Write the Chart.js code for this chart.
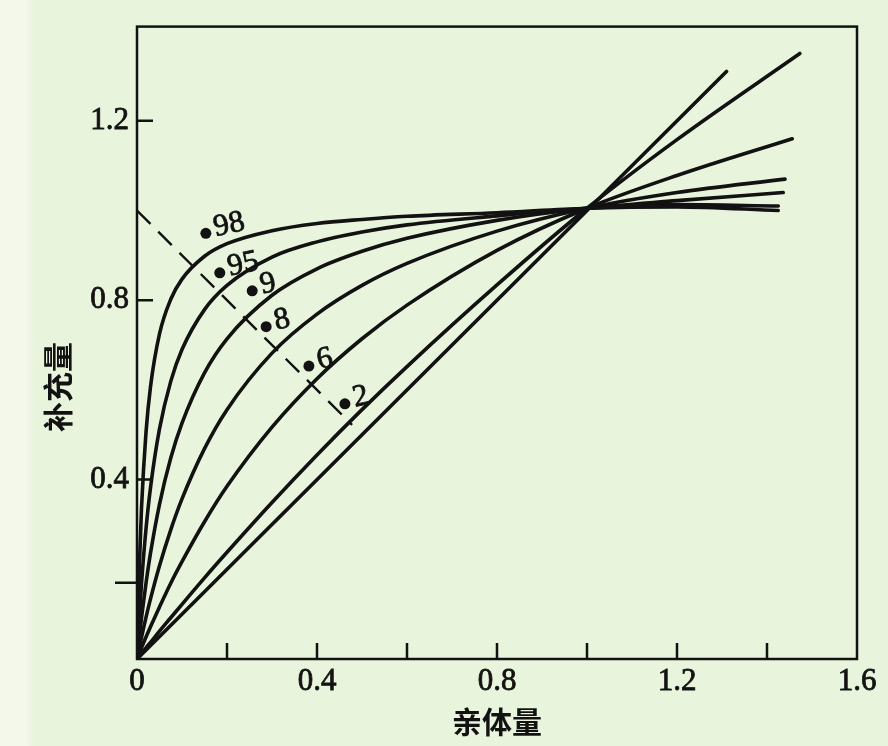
<!DOCTYPE html>
<html lang="zh">
<head>
  <meta charset="UTF-8" />
  <title>补充量与亲体量</title>
  <script src="https://cdn.jsdelivr.net/npm/chart.js"></script>
  <style>
    html, body { margin: 0; padding: 0; }
    body {
      width: 888px;
      height: 746px;
      overflow: hidden;
      background: linear-gradient(to right, #f4f8ea 0, #f4f8ea 26px, #e9f4dd 34px, #e9f4dd 100%);
    }
  </style>
</head>
<body>
  <canvas id="srChart" width="888" height="746"></canvas>

  <script>
    // 亲体量 sample points shared by the curves
    const stock = [0, 0.005, 0.01, 0.02, 0.03, 0.05, 0.075, 0.1, 0.15, 0.2, 0.3, 0.4, 0.5, 0.6, 0.8, 1.0, 1.2];

    // 补充量 at those points
    const rec98 = [0, 0.201, 0.336, 0.505, 0.607, 0.725, 0.802, 0.847, 0.898, 0.926, 0.955, 0.971, 0.980, 0.987, 0.995, 1.005, 1.008];
    const rec95 = [0, 0.091, 0.168, 0.290, 0.382, 0.513, 0.619, 0.690, 0.779, 0.833, 0.896, 0.930, 0.952, 0.968, 0.988, 1.005, 1.013];
    const rec9  = [0, 0.048, 0.092, 0.169, 0.236, 0.345, 0.448, 0.526, 0.638, 0.714, 0.811, 0.870, 0.909, 0.938, 0.978, 1.005, 1.022];
    const rec8  = [0, 0.025, 0.048, 0.093, 0.134, 0.208, 0.288, 0.357, 0.469, 0.556, 0.682, 0.769, 0.833, 0.882, 0.954, 1.005, 1.040];
    const rec6  = [0, 0.012, 0.025, 0.049, 0.072, 0.116, 0.169, 0.217, 0.306, 0.385, 0.517, 0.625, 0.714, 0.789, 0.911, 1.005, 1.078];
    const rec2  = [0, 0.006, 0.012, 0.025, 0.037, 0.062, 0.092, 0.122, 0.181, 0.238, 0.349, 0.455, 0.556, 0.652, 0.834, 1.005, 1.158];

    // where each curve stops on the right
    const curveEndX = [1.425, 1.425, 1.436, 1.44, 1.456, 1.473];
    const curveEndY = [1.00, 1.01, 1.04, 1.07, 1.16, 1.35];

    // 1:1 replacement line and the dashed guide
    const diagonalX = [0, 1.31];
    const diagonalY = [0, 1.31];
    const dashX = [0, 0.478];
    const dashY = [1.0, 0.522];

    // curve labels (dot + number)
    const labelText = ['98', '95', '9', '8', '6', '2'];
    const labelX = [0.153, 0.184, 0.256, 0.287, 0.382, 0.462];
    const labelY = [0.949, 0.861, 0.821, 0.741, 0.653, 0.569];

    // axis ticks
    const xTickLabels = [0, 0.4, 0.8, 1.2, 1.6];
    const yTickLabels = [0.4, 0.8, 1.2];
    const xTickMarks = [0.2, 0.4, 0.6, 0.8, 1.0, 1.2, 1.4];
    const yTickMarksIn = [0.4, 0.8, 1.2];
    const yTickMarksOut = [0.17];

    const xTitle = '亲体量';
    const yTitle = '补充量';
    const ink = '#121212';

    const curves = [rec98, rec95, rec9, rec8, rec6, rec2];

    function toPoints(xs, ys) {
      return xs.map((v, i) => ({ x: v, y: ys[i] }));
    }

    const datasets = curves.map((ys, i) => ({
      data: toPoints(stock, ys).concat([{ x: curveEndX[i], y: curveEndY[i] }]),
      showLine: true,
      borderColor: ink,
      borderWidth: 3.6,
      borderCapStyle: 'round',
      pointRadius: 0,
      cubicInterpolationMode: 'monotone'
    }));

    datasets.push({
      data: toPoints(diagonalX, diagonalY),
      showLine: true,
      borderColor: ink,
      borderWidth: 3.6,
      borderCapStyle: 'round',
      pointRadius: 0
    });

    datasets.push({
      data: toPoints(dashX, dashY),
      showLine: true,
      borderColor: ink,
      borderWidth: 2.4,
      borderDash: [19, 11],
      pointRadius: 0
    });

    datasets.push({
      data: toPoints(labelX, labelY),
      showLine: false,
      pointRadius: 5.5,
      pointBackgroundColor: ink,
      pointBorderWidth: 0
    });

    // frame, inward tick marks, curve numbers and the vertical title
    const marks = {
      id: 'marks',
      afterDraw(chart) {
        const { ctx, chartArea: a } = chart;
        const x = chart.scales.x, y = chart.scales.y;
        ctx.save();
        ctx.strokeStyle = ink;
        ctx.lineWidth = 2.5;
        ctx.strokeRect(a.left, a.top, a.right - a.left, a.bottom - a.top);

        ctx.beginPath();
        xTickMarks.forEach(v => {
          const px = x.getPixelForValue(v);
          ctx.moveTo(px, a.bottom);
          ctx.lineTo(px, a.bottom - 16);
        });
        yTickMarksIn.forEach(v => {
          const py = y.getPixelForValue(v);
          ctx.moveTo(a.left, py);
          ctx.lineTo(a.left + 16, py);
        });
        yTickMarksOut.forEach(v => {
          const py = y.getPixelForValue(v);
          ctx.moveTo(a.left, py);
          ctx.lineTo(a.left - 22, py);
        });
        ctx.stroke();

        ctx.fillStyle = ink;
        ctx.strokeStyle = ink;
        ctx.lineWidth = 0.8;
        ctx.font = '31px "Liberation Serif"';
        ctx.textAlign = 'left';
        ctx.textBaseline = 'alphabetic';
        labelText.forEach((t, i) => {
          const px = x.getPixelForValue(labelX[i]);
          const py = y.getPixelForValue(labelY[i]);
          ctx.save();
          ctx.translate(px + 10, py + 3);
          ctx.rotate(-0.22);
          ctx.fillText(t, 0, 0);
          ctx.strokeText(t, 0, 0);
          ctx.restore();
        });

        ctx.font = 'bold 30px "Noto Sans CJK SC"';
        ctx.textAlign = 'center';
        ctx.textBaseline = 'middle';
        ctx.translate(58, 387);
        ctx.rotate(-Math.PI / 2);
        ctx.fillText(yTitle, 0, 0);
        ctx.restore();
      }
    };

    const tickFont = { family: '"Liberation Serif", serif', size: 31 };

    new Chart(document.getElementById('srChart'), {
      type: 'scatter',
      data: { datasets },
      options: {
        responsive: false,
        devicePixelRatio: 1,
        animation: false,
        layout: { padding: { left: 0, right: 31, top: 23, bottom: 0 } },
        plugins: {
          legend: { display: false },
          tooltip: { enabled: false }
        },
        scales: {
          x: {
            type: 'linear',
            min: 0,
            max: 1.6,
            grid: { display: false, drawTicks: false },
            border: { display: false },
            ticks: {
              stepSize: 0.2,
              autoSkip: false,
              maxRotation: 0,
              padding: 4,
              color: ink,
              textStrokeColor: ink,
              textStrokeWidth: 0.8,
              font: tickFont,
              callback: v => {
                const r = Math.round(v * 10) / 10;
                return xTickLabels.includes(r) ? String(r) : '';
              }
            },
            title: {
              display: true,
              text: xTitle,
              color: ink,
              font: { family: '"Noto Sans CJK SC"', size: 30, weight: 'bold' },
              padding: { top: 0, bottom: 6 }
            },
            afterFit: s => { s.height = 87; }
          },
          y: {
            type: 'linear',
            min: 0,
            max: 1.41,
            grid: { display: false, drawTicks: false },
            border: { display: false },
            ticks: {
              stepSize: 0.2,
              autoSkip: false,
              padding: 8,
              color: ink,
              textStrokeColor: ink,
              textStrokeWidth: 0.8,
              font: tickFont,
              callback: v => {
                const r = Math.round(v * 10) / 10;
                return yTickLabels.includes(r) ? String(r) : '';
              }
            },
            afterFit: s => { s.width = 137; }
          }
        }
      },
      plugins: [marks]
    });
  </script>
</body>
</html>
